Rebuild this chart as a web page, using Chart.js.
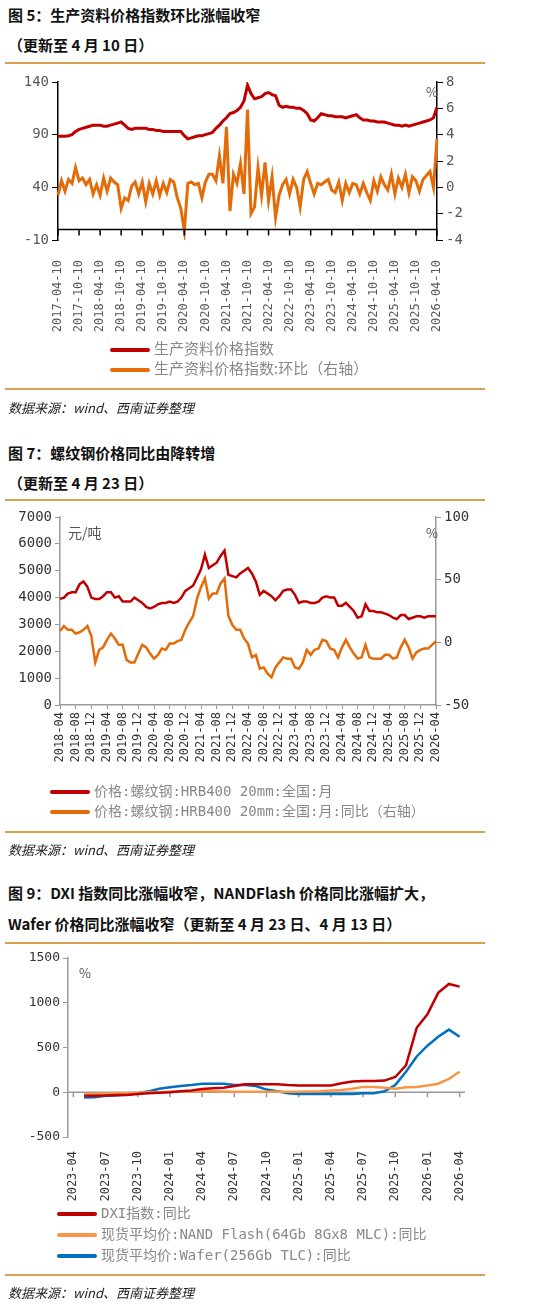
<!DOCTYPE html>
<html><head><meta charset="utf-8">
<script src="https://cdn.jsdelivr.net/npm/chart.js@4/dist/chart.umd.min.js"></script>
<style>
body{margin:0;width:540px;height:1305px;background:#fff;position:relative;overflow:hidden;font-family:"Noto Sans CJK SC",sans-serif}
.t{position:absolute;left:8px;font-weight:bold;font-size:15px;color:#111;white-space:nowrap}
.hr{position:absolute;left:5px;width:480px;height:2px;background:#d9a050}
.src{position:absolute;left:8px;font-size:13px;font-style:italic;color:#222}
.lg{position:absolute;font-size:14px;color:#888;white-space:nowrap;font-family:"DejaVu Sans Mono","Noto Sans CJK SC",monospace}
.lg i{display:inline-block;width:40px;height:4px;vertical-align:middle;margin-right:4px;border-radius:2px}
.u{position:absolute;font-size:13px;color:#555}
canvas{position:absolute}
</style></head><body>
<div class="t" style="top:4px">图 5：生产资料价格指数环比涨幅收窄</div>
<div class="t" style="top:34px">（更新至 4 月 10 日）</div>
<div class="hr" style="top:62px"></div>
<div style="position:absolute;left:0;top:70px;width:490px;height:275px"><canvas id="c1"></canvas></div>
<div class="u" style="left:426px;top:82px">%</div>
<div class="lg" style="left:110px;top:337px;font-size:15px;font-family:'Noto Sans CJK SC'"><i style="background:#c00000"></i>生产资料价格指数</div>
<div class="lg" style="left:110px;top:357px;font-size:15px;font-family:'Noto Sans CJK SC'"><i style="background:#e36c09"></i>生产资料价格指数:环比（右轴）</div>
<div class="hr" style="top:388px"></div>
<div class="src" style="top:398px">数据来源：wind、西南证券整理</div>

<div class="t" style="top:442px">图 7：螺纹钢价格同比由降转增</div>
<div class="t" style="top:472px">（更新至 4 月 23 日）</div>
<div class="hr" style="top:499px"></div>
<div style="position:absolute;left:0;top:505px;width:490px;height:282px"><canvas id="c2"></canvas></div>
<div class="u" style="left:68px;top:522px;font-size:14px">元/吨</div>
<div class="u" style="left:426px;top:523px">%</div>
<div class="lg" style="left:50px;top:780px"><i style="background:#c00000"></i>价格:螺纹钢:HRB400 20mm:全国:月</div>
<div class="lg" style="left:50px;top:800px"><i style="background:#e36c09"></i>价格:螺纹钢:HRB400 20mm:全国:月:同比（右轴）</div>
<div class="hr" style="top:831px"></div>
<div class="src" style="top:840px">数据来源：wind、西南证券整理</div>

<div class="t" style="top:882px">图 9：DXI 指数同比涨幅收窄，NANDFlash 价格同比涨幅扩大，</div>
<div class="t" style="top:913px">Wafer 价格同比涨幅收窄（更新至 4 月 23 日、4 月 13 日）</div>
<div class="hr" style="top:942px"></div>
<div style="position:absolute;left:0;top:945px;width:490px;height:262px"><canvas id="c3"></canvas></div>
<div class="u" style="left:79px;top:963px">%</div>
<div class="lg" style="left:57px;top:1202px"><i style="background:#c00000"></i>DXI指数:同比</div>
<div class="lg" style="left:57px;top:1223px"><i style="background:#f79646"></i>现货平均价:NAND Flash(64Gb 8Gx8 MLC):同比</div>
<div class="lg" style="left:57px;top:1244px"><i style="background:#0070c0"></i>现货平均价:Wafer(256Gb TLC):同比</div>
<div class="hr" style="top:1274px"></div>
<div class="src" style="top:1283px">数据来源：wind、西南证券整理</div>

<script>
function months(y,m,n,suf){const a=[];for(let i=0;i<n;i++){a.push(y+'-'+String(m).padStart(2,'0')+(suf||''));m++;if(m>12){m=1;y++;}}return a;}
// Chart 1
const c1Labels=months(2017,4,109,'-10');
const c1Index=[88.5,88.5,88.5,89,90,93,95,96,97,
98,99,99,99,98,98,99,100,101,102,99,96,
95,96,96,96,96,95,95,94,94,93,93,93,
93,93,93,89,86,87,88,89,89,90,91,92,
96,99,103,106,110,111,113,116,122,137,129,124,
125,126,129,130,128,127,118,116,117,116,116,115,
115,113,110,104,103,106,110,109,108,108,107,107,
107,106,107,108,109,106,104,104,103,103,102,102,
102,101,100,99,99,98,99,98,99,100,101,102,
103,104,106,116];
const c1Mom=[-0.6,0.5,-0.3,0.6,0.3,1.5,0.5,0.7,0.2,
0.6,-0.5,0.2,-0.6,0.7,-0.3,0.7,0.4,0.2,-1.6,-0.8,-1.0,
0.1,0.4,-0.5,0.4,-1.1,0.3,-0.5,0.5,-0.6,0.3,-0.4,0.6,
0.4,-0.8,-1.6,-3.3,0.3,0.4,0.2,0.3,-0.8,0.4,1.0,1.0,
0.5,2.4,0.3,4.6,-1.8,1.0,0.3,1.8,-0.5,5.9,-2.0,-1.5,
1.5,-0.6,1.9,-1.0,0.8,-2.3,-0.6,0.2,0.6,-0.5,0.6,0.0,
-1.5,0.6,1.2,0.3,-0.5,0.3,0.2,0.4,0.6,-0.2,-0.4,0.4,
-1.0,0.3,-0.4,0.3,0.2,-0.5,0.3,-0.4,-1.0,0.5,-0.3,0.8,
0.2,-0.2,1.0,-0.5,0.7,0.0,1.0,-0.4,0.8,0.5,-0.3,0.6,
0.9,1.2,0.0,3.7];
// Chart 2
const c2Labels=months(2018,4,97);
const c2Price=[3950,4000,4150,4200,4200,4500,4600,4400,4000,
3950,3950,4050,4200,4200,4000,4050,3850,3850,3850,4000,3900,
3800,3650,3600,3650,3750,3800,3800,3850,3800,3850,4000,4250,
4350,4450,4750,5050,5600,5100,5200,5300,5550,5750,4850,4800,
4750,4900,5000,5100,4900,4600,4100,4250,4150,4050,3900,4050,
4250,4300,4300,4100,3800,3850,3850,3800,3800,3850,4000,4050,
4000,4000,3700,3700,3800,3650,3500,3250,3300,3750,3500,3500,
3450,3450,3400,3350,3250,3200,3350,3350,3200,3250,3300,3300,
3250,3300,3300,3300];
const c2Yoy=[9,13,10,10,7,8,10,13,5,
-16,-6,-4,2,7,3,-2,-2,-14,-16,-16,-9,
-2,-4,-9,-13,-10,-5,-6,-1,-1,1,2,10,
16,21,35,44,51,35,39,39,47,51,21,14,
10,10,3,-1,-12,-10,-21,-20,-25,-28,-20,-16,
-12,-13,-13,-20,-21,-16,-6,-10,-6,-5,2,1,
-5,-6,-12,-4,2,-4,-9,-13,-12,-2,-12,-13,
-13,-13,-10,-10,-13,-12,-4,2,-4,-13,-8,-6,
-5,-5,-2,1];
// Chart 3
const c3Labels=months(2023,4,37);
const c3Dxi=[null,-40,-40,-35,-30,-30,-20,-10,-5,
0,10,20,35,45,50,70,90,90,90,90,80,
75,75,75,75,100,120,125,125,130,170,300,720,
870,1110,1210,1180,1095].slice(0,37);
const c3Nand=[null,-20,-20,-15,-15,-10,-5,0,0,
5,5,10,10,10,8,5,5,5,5,5,5,
5,8,10,20,25,40,60,60,50,40,55,60,
75,95,150,230];
const c3Wafer=[null,-60,-55,-40,-35,-25,-10,10,40,
55,70,80,95,95,95,80,80,70,30,10,-10,
-20,-20,-20,-20,-20,-20,-10,-10,10,80,230,400,
520,620,700,620];

const mono='"DejaVu Sans Mono", monospace';
const F=(s)=>({family:mono,size:s});
const plain=v=>String(v);
Chart.defaults.animation=false;
Chart.defaults.font.family=mono;
Chart.defaults.color='#595959';
function fixW(w){return s=>{s.width=w;};}
function fixH(h){return s=>{s.height=h;};}
const lineDs=(d,c,axis,w)=>({data:d,borderColor:c,borderWidth:w||3,pointRadius:0,tension:0,yAxisID:axis||'y',fill:false});

const zeroLine={id:'z',afterDatasetsDraw(ch){const{ctx,chartArea:ca,scales}=ch;const y=scales.y.getPixelForValue(0);ctx.save();ctx.strokeStyle='#000';ctx.lineWidth=1.5;ctx.beginPath();ctx.moveTo(ca.left,y);ctx.lineTo(ca.right,y);
for(let i=0;i<ch.data.labels.length;i+=6){const px=scales.x.getPixelForValue(i);ctx.moveTo(px,y);ctx.lineTo(px,y+6);}ctx.stroke();ctx.restore();}};

new Chart(document.getElementById('c1'),{type:'line',
data:{labels:c1Labels,datasets:[lineDs(c1Index,'#c00000','y',3),lineDs(c1Mom,'#e36c09','y1',3)]},
options:{responsive:true,maintainAspectRatio:false,layout:{padding:{top:12}},
plugins:{legend:{display:false},tooltip:{enabled:false}},
scales:{
x:{offset:false,grid:{display:false},border:{display:false},afterFit:fixH(105),
ticks:{autoSkip:false,maxRotation:90,minRotation:90,font:F(12),padding:12,callback:(v,i)=>i%6===0?c1Labels[i]:null}},
y:{min:-10,max:140,afterFit:fixW(58),grid:{drawOnChartArea:false,tickLength:6,color:'#000'},border:{color:'#000',width:1.5},ticks:{stepSize:50,font:F(14),callback:plain}},
y1:{position:'right',min:-4,max:8,afterFit:fixW(53),grid:{drawOnChartArea:false,tickLength:6,color:'#000'},border:{color:'#000',width:1.5},ticks:{stepSize:2,font:F(14),callback:plain}}
}},plugins:[zeroLine]});

new Chart(document.getElementById('c2'),{type:'line',
data:{labels:c2Labels,datasets:[lineDs(c2Price,'#c00000','y',2.5),lineDs(c2Yoy,'#e36c09','y1',2.5)]},
options:{responsive:true,maintainAspectRatio:false,layout:{padding:{top:12}},
plugins:{legend:{display:false},tooltip:{enabled:false}},
scales:{
x:{offset:false,grid:{drawOnChartArea:false,tickLength:4,color:'#999'},border:{color:'#999',width:1.5},afterFit:fixH(82),
ticks:{autoSkip:false,maxRotation:90,minRotation:90,font:F(12),color:'#333',callback:(v,i)=>i%4===0?c2Labels[i]:null}},
y:{min:0,max:7000,afterFit:fixW(60),grid:{drawOnChartArea:false,tickLength:5,color:'#999'},border:{color:'#999',width:1.5},ticks:{stepSize:1000,font:F(14),color:'#333',callback:plain}},
y1:{position:'right',min:-50,max:100,afterFit:fixW(54),grid:{drawOnChartArea:false,tickLength:5,color:'#999'},border:{color:'#999',width:1.5},ticks:{stepSize:50,font:F(14),color:'#333',callback:plain}}
}}});

const zeroLine3={id:'z3',beforeDatasetsDraw(ch){const{ctx,chartArea:ca,scales}=ch;const y=scales.y.getPixelForValue(0);ctx.save();ctx.strokeStyle='#999';ctx.lineWidth=1.5;ctx.beginPath();ctx.moveTo(ca.left,y);ctx.lineTo(ca.right,y);
for(let i=0;i<ch.data.labels.length;i+=3){const px=scales.x.getPixelForValue(i);ctx.moveTo(px,y);ctx.lineTo(px,y+5);}ctx.stroke();ctx.restore();}};
new Chart(document.getElementById('c3'),{type:'line',
data:{labels:c3Labels,datasets:[lineDs(c3Dxi,'#c00000','y',2.5),lineDs(c3Nand,'#f79646','y',2.5),lineDs(c3Wafer,'#0070c0','y',2.5)]},
options:{responsive:true,maintainAspectRatio:false,layout:{padding:{top:13,right:25}},
plugins:{legend:{display:false},tooltip:{enabled:false}},
scales:{
x:{offset:true,grid:{display:false},border:{display:false},afterFit:fixH(70),
ticks:{autoSkip:false,maxRotation:90,minRotation:90,font:F(12),color:'#333',padding:6,callback:(v,i)=>i%3===0?c3Labels[i]:null}},
y:{min:-500,max:1500,afterFit:fixW(68),grid:{drawOnChartArea:false,tickLength:5,color:'#999'},border:{color:'#999',width:1.5},ticks:{stepSize:500,font:F(13),color:'#333',callback:plain}}
}},plugins:[zeroLine3]});
</script>
</body></html>
